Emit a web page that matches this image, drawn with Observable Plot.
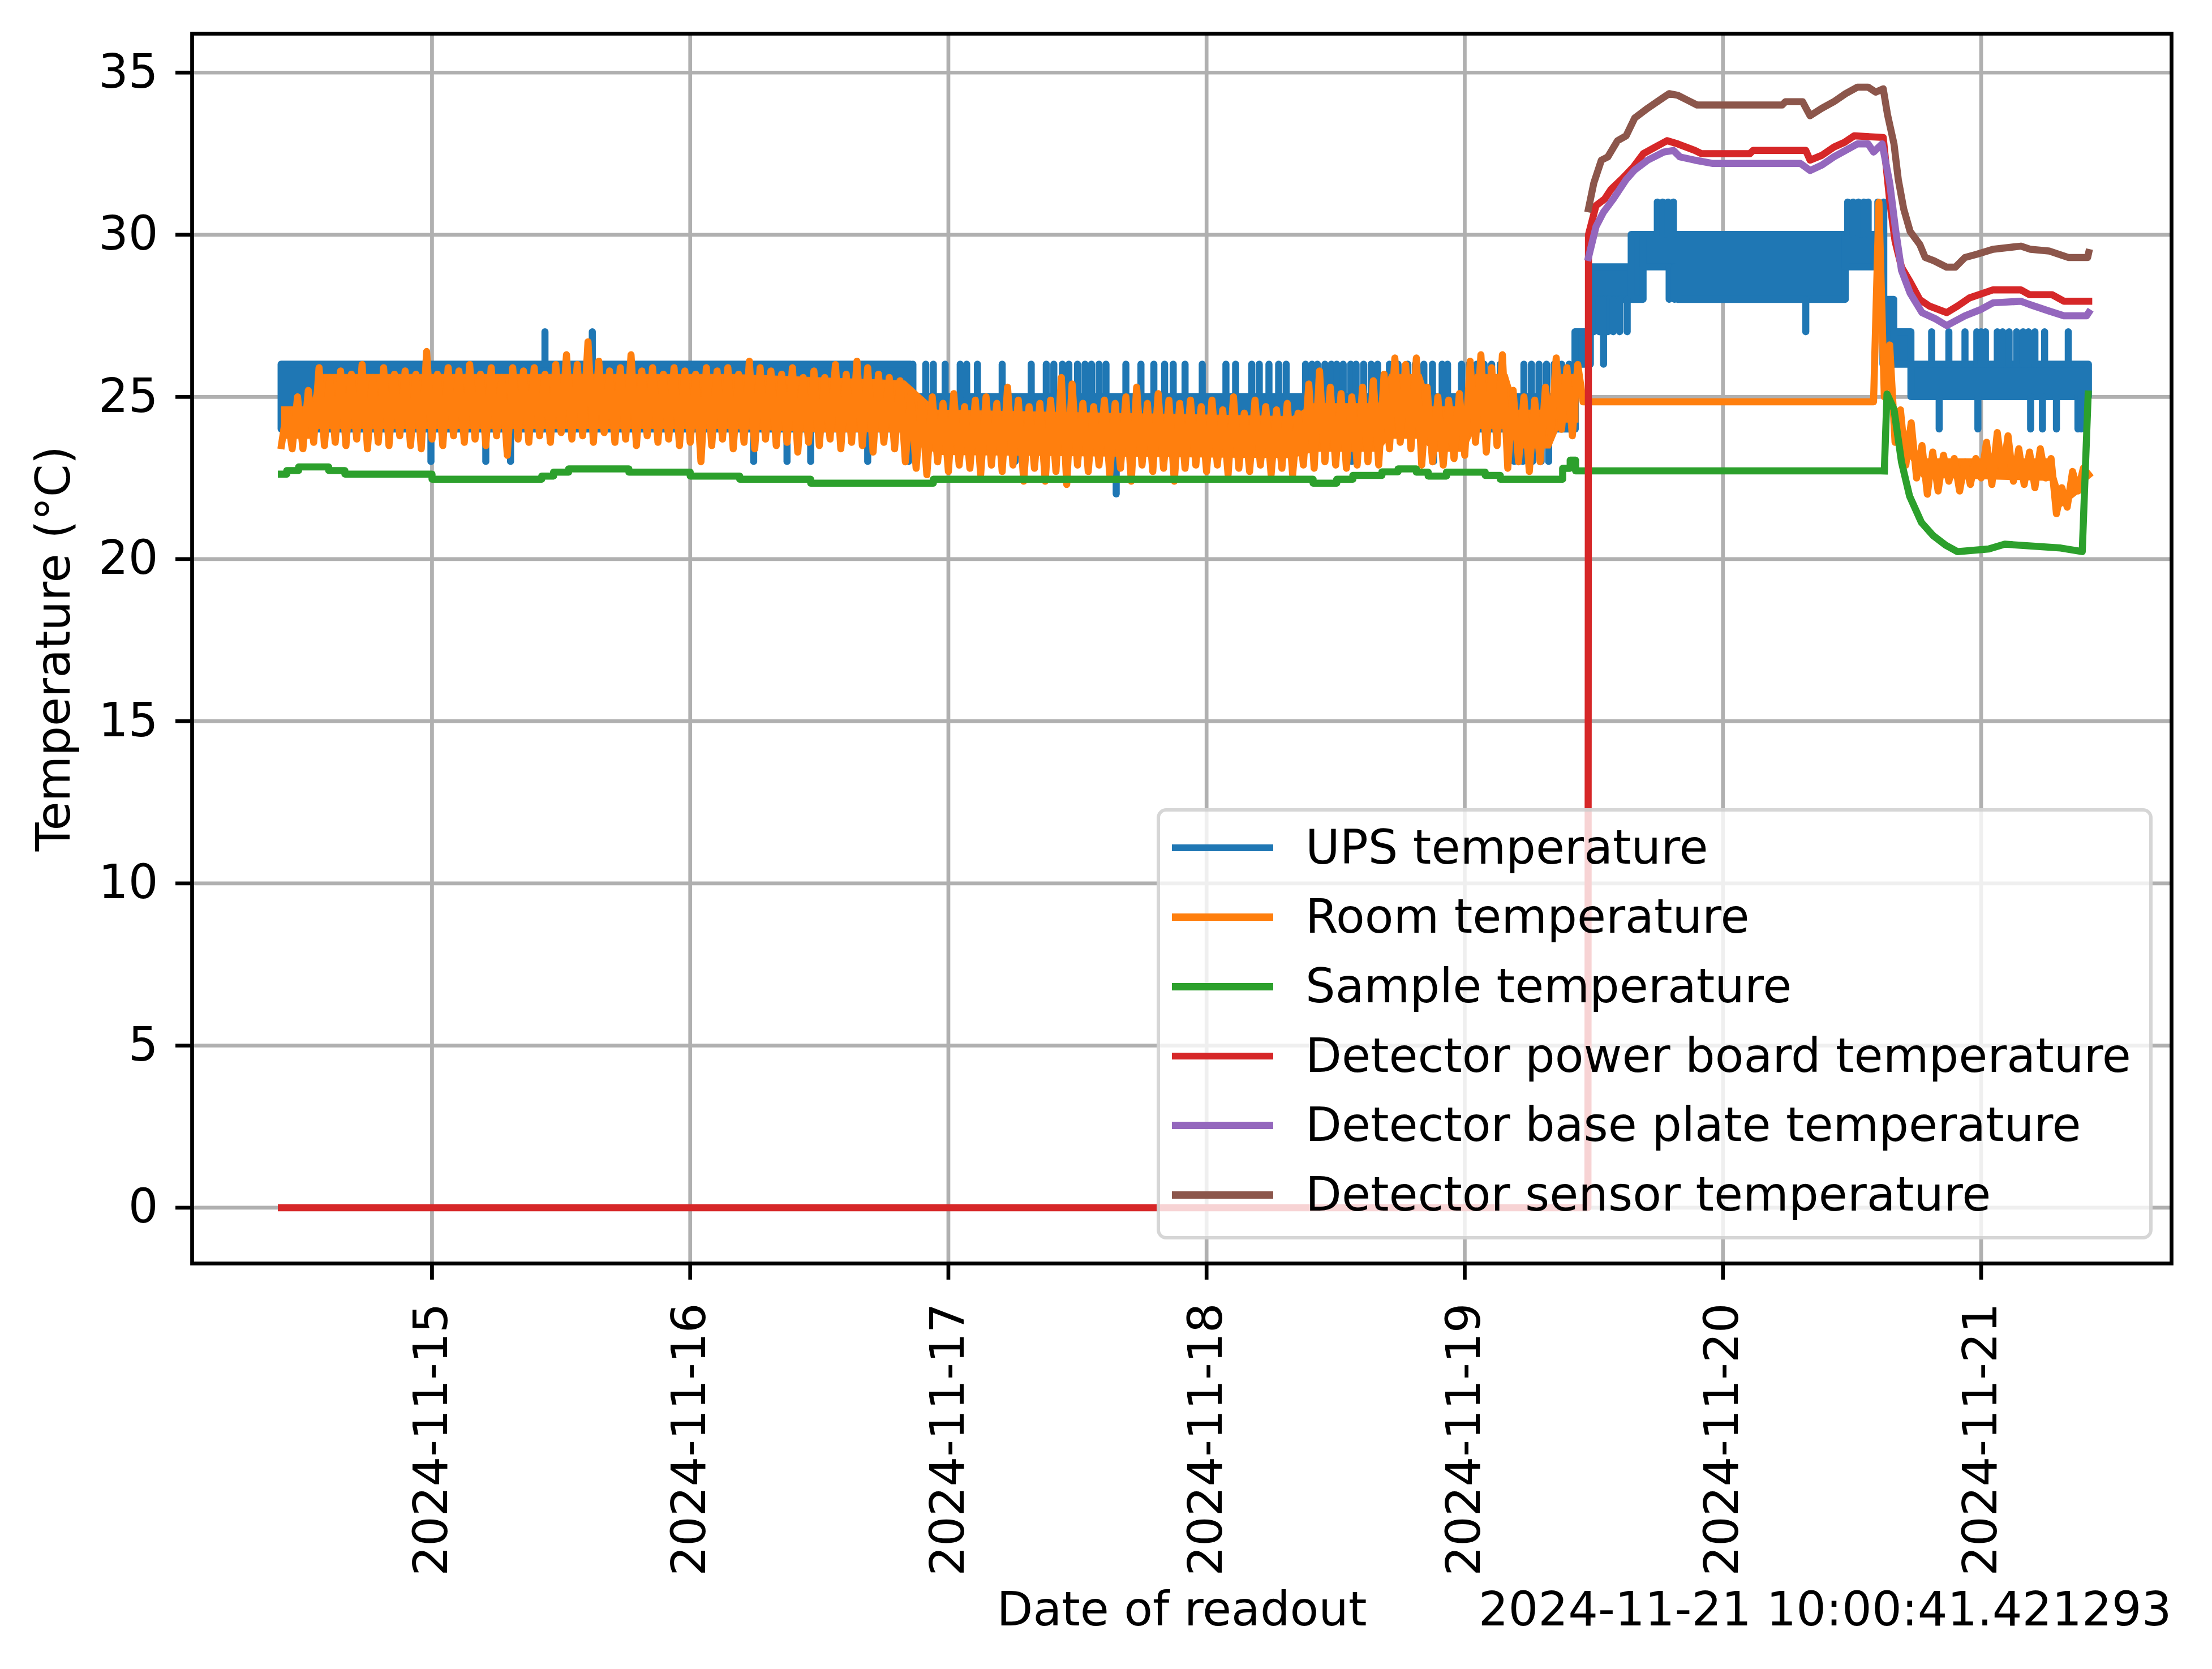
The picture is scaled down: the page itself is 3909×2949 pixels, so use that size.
<!DOCTYPE html>
<html>
<head>
<meta charset="utf-8">
<script src="https://cdn.jsdelivr.net/npm/d3@7"></script>
<script src="https://cdn.jsdelivr.net/npm/@observablehq/plot@0.6"></script>
<style>
html, body { margin: 0; padding: 0; background: #ffffff; }
#wrap { position: relative; width: 3909px; height: 2949px; font-family: "DejaVu Sans", sans-serif; }
#legend { position: absolute; left: 2044px; top: 1428px; width: 1760px; height: 762px; box-sizing: border-box;
  border: 6px solid rgba(204,204,204,0.8); border-radius: 17px; background: rgba(255,255,255,0.8); }
.row { position: absolute; left: 0; width: 100%; height: 122.7px; }
.sw { position: absolute; left: 21px; top: 55px; width: 179px; height: 12.5px; }
.lab { position: absolute; left: 257px; top: 0; line-height: 122.7px; font-size: 83px; color: #000; white-space: nowrap; }
</style>
</head>
<body>
<div id="wrap"><div id="chart"></div><div id="legend"></div></div>
<script>
// ---------- data (hours since 2024-11-14 00:00 UTC) ----------
const HOUR0 = 10, HOUR_END = 178;
const SERIES = ["UPS temperature", "Room temperature", "Sample temperature",
  "Detector power board temperature", "Detector base plate temperature", "Detector sensor temperature"];
const COLORS = ["#1f77b4", "#ff7f0e", "#2ca02c", "#d62728", "#9467bd", "#8c564b"];
const X_TICKS = ["2024-11-15", "2024-11-16", "2024-11-17", "2024-11-18", "2024-11-19", "2024-11-20", "2024-11-21"];
const Y_TICKS = [0, 5, 10, 15, 20, 25, 30, 35];
const STAMP = "2024-11-21 10:00:41.421293";

// UPS temperature: the level band it flips within, per stretch of time
const UPS_BAND_START = [10, 68.5, 130.3, 131.7, 135.5, 136.6, 139.8, 155.4, 158.9, 159.9, 161.5];
const UPS_BAND_END   = [68.5, 130.3, 131.7, 135.5, 136.6, 139.8, 155.4, 158.9, 159.9, 161.5, 178];
const UPS_BAND_LO    = [24, 24, 26, 28, 28, 29, 28, 29, 26, 26, 25];
const UPS_BAND_HI    = [26, 25, 27, 29, 30, 30, 30, 30, 28, 27, 26];
// UPS temperature: single readings outside the band
const UPS_SPIKE_H = [
  23.9, 29.0, 31.3, 34.5, 38.9, 53.9, 57.0, 59.2, 64.5, 68.3,
  68.7, 69.9, 70.6, 71.7, 73.1, 73.7, 74.7, 77.0, 79.7, 81.1, 81.8, 82.6, 83.2, 84.0, 84.7, 85.3, 86.0, 86.65,
  88.5, 89.9, 91.1, 92.1, 92.9, 94.0, 95.6, 97.8, 98.7, 100.2, 100.9, 101.8, 102.7, 103.4,
  105.2, 105.8, 106.3, 107.0, 107.6, 108.1, 108.7, 109.4, 109.9, 110.6, 111.3, 111.9,
  113.0, 113.8, 114.7, 115.4, 116.2, 117.0, 117.9, 118.4, 119.7, 120.4, 121.1, 121.8, 122.5, 123.3,
  125.5, 126.2, 126.9, 127.6, 128.3, 129.0, 129.7,
  73.0, 78.2, 80.9, 87.6, 109.5, 117.1, 124.6, 125.4, 126.3, 127.1, 127.8,
  130.25, 131.65,
  132.0, 132.5, 133.3, 133.8, 134.4, 135.1, 132.9,
  139.0, 139.5, 137.9, 138.4, 138.9, 139.4, 151.7,
  155.6, 156.1, 156.6, 157.1, 157.5, 158.4, 158.6, 158.95,
  163.4, 165.0, 166.5, 167.6, 168.0, 168.4, 169.5, 170.0, 170.6, 171.3, 171.9, 172.4, 173.0, 173.9, 176.1,
  164.1, 167.7, 172.6, 173.7, 175.0, 177.0, 177.3, 177.6];
const UPS_SPIKE_V = [
  23, 23, 23, 27, 27, 23, 23, 23, 23, 23,
  26, 26, 26, 26, 26, 26, 26, 26, 26, 26, 26, 26, 26, 26, 26, 26, 26, 26,
  26, 26, 26, 26, 26, 26, 26, 26, 26, 26, 26, 26, 26, 26,
  26, 26, 26, 26, 26, 26, 26, 26, 26, 26, 26, 26,
  26, 26, 26, 26, 26, 26, 26, 26, 26, 26, 26, 26, 26, 26,
  26, 26, 26, 26, 26, 26, 26,
  23, 23, 23, 22, 23, 23, 23, 23, 23, 23, 23,
  27, 28,
  27, 27, 27, 27, 27, 27, 26,
  28, 28, 31, 31, 31, 31, 27,
  31, 31, 31, 31, 31, 31, 28, 31,
  27, 27, 27, 27, 27, 27, 27, 27, 27, 27, 27, 27, 27, 27, 27,
  24, 24, 24, 24, 24, 24, 24, 24];

// Room temperature: hourly low / high readings (h10 .. h178)
const ROOM_LO = [
  23.5,23.4,23.4,23.6,23.5,23.6,23.5,23.7,23.4,23.6,
  23.5,23.8,23.5,23.4,23.7,23.5,23.8,23.6,23.7,23.5,
  23.8,23.2,23.7,23.6,23.8,23.6,23.9,23.7,23.8,23.6,
  23.9,23.6,23.7,23.5,23.8,23.6,23.7,23.5,23.6,23.0,
  23.5,23.7,23.4,23.6,23.4,23.7,23.5,23.6,23.3,23.6,
  23.5,23.7,23.4,23.6,23.5,23.3,23.6,23.4,23.0,22.8,
  22.6,23.0,22.7,22.9,22.8,22.6,22.9,22.7,22.9,22.4,
  22.8,22.4,22.7,22.3,22.9,22.7,22.9,22.6,22.8,22.4,
  22.9,22.7,22.8,22.4,22.8,22.9,22.7,22.9,22.6,22.8,
  22.7,22.9,22.6,22.8,22.6,22.9,22.8,23.0,22.9,22.8,
  22.9,23.0,22.9,23.4,23.6,23.4,22.9,23.0,22.9,23.1,
  23.2,23.6,23.3,23.5,22.8,23.0,22.7,23.0,23.8,24.0,
  23.8,24.85,24.85,24.85,24.85,24.85,24.85,24.85,24.85,24.85,
  24.85,24.85,24.85,24.85,24.85,24.85,24.85,24.85,24.85,24.85,
  24.85,24.85,24.85,24.85,24.85,24.85,24.85,24.85,24.85,25.0,
  23.6,22.9,22.5,22.0,22.1,22.4,22.1,22.3,22.5,22.3,
  22.6,22.4,22.3,22.2,22.5,21.4,21.6,22.1,22.6];
const ROOM_HI = [
  24.6,25.0,25.2,25.9,25.6,25.8,25.7,26.0,25.6,25.9,
  25.7,25.8,25.7,26.4,25.7,25.9,25.8,26.0,25.7,25.9,
  25.6,25.9,25.8,25.9,25.7,26.0,26.3,26.0,26.7,26.1,
  25.8,25.9,26.3,25.8,25.9,25.7,25.9,25.8,25.7,25.9,
  25.8,25.9,25.7,26.1,25.9,25.8,25.7,25.9,25.6,25.8,
  25.6,26.0,25.7,26.1,25.9,25.7,25.6,25.5,25.1,24.9,
  25.0,24.8,25.1,24.7,24.9,25.0,24.8,25.3,24.9,24.7,
  24.8,24.9,25.6,25.4,24.8,24.7,24.9,24.8,25.0,25.3,
  24.8,25.1,24.9,24.8,24.9,24.7,24.9,24.6,25.0,24.5,
  24.9,24.7,24.6,24.8,24.5,25.4,25.8,25.3,25.1,25.0,
  25.3,25.5,25.7,26.2,26.0,26.2,25.3,25.0,24.9,25.1,
  26.1,26.3,25.9,26.3,25.2,25.0,24.9,25.3,26.2,25.9,
  26.0,24.85,24.85,24.85,24.85,24.85,24.85,24.85,24.85,24.85,
  24.85,24.85,24.85,24.85,24.85,24.85,24.85,24.85,24.85,24.85,
  24.85,24.85,24.85,24.85,24.85,24.85,24.85,24.85,31.0,26.6,
  24.6,24.2,23.5,23.3,23.2,23.1,23.0,23.1,23.6,23.9,
  23.8,23.4,23.3,23.4,23.1,22.2,22.7,22.8,22.6];
// Room temperature: the solid core of the noisy band
const ROOM_CORE_H  = [10, 12.7, 13.5, 52, 60, 68, 71, 104, 106, 112, 113, 116, 117, 120, 121, 124, 125, 128, 129, 130.6];
const ROOM_CORE_LO = [23.7, 23.7, 24.0, 24.0, 23.9, 23.9, 23.2, 23.1, 23.3, 23.3, 23.7, 23.7, 23.3, 23.3, 24.0, 24.0, 23.4, 23.4, 24.2, 24.2];
const ROOM_CORE_HI = [24.7, 24.7, 25.7, 25.7, 25.6, 25.5, 24.6, 24.4, 24.8, 24.8, 25.7, 25.7, 24.7, 24.7, 25.7, 25.7, 24.6, 24.6, 25.7, 25.7];
const ROOM_CORE2_H  = [161.0, 162.5, 174.5, 175.5, 177.8];
const ROOM_CORE2_LO = [23.3, 22.5, 22.4, 21.6, 22.2];
const ROOM_CORE2_HI = [24.0, 23.1, 23.1, 22.0, 22.6];

// Sample temperature: stepped part, then the cooling tail
const SAMPLE_STEP_H = [10, 10.5, 11.6, 14.4, 15.9, 24.0, 34.2, 35.3, 36.7, 42.3, 48.0, 52.6, 59.2, 70.6,
  105.9, 108.1, 109.6, 112.3, 113.8, 115.5, 116.6, 118.3, 121.9, 123.3, 129.1, 129.8, 130.3, 159.0];
const SAMPLE_STEP_V = [22.62, 22.73, 22.84, 22.73, 22.62, 22.46, 22.56, 22.68, 22.78, 22.68, 22.56, 22.46, 22.34, 22.46,
  22.34, 22.46, 22.58, 22.69, 22.78, 22.68, 22.56, 22.68, 22.58, 22.46, 22.80, 23.05, 22.72, 22.72];
const SAMPLE_TAIL_H = [159.0, 159.25, 159.9, 160.6, 161.35, 162.45, 163.55, 164.7, 165.8, 168.7, 170.2, 175.4, 177.4, 177.95];
const SAMPLE_TAIL_V = [22.72, 25.09, 24.62, 22.99, 21.94, 21.13, 20.72, 20.43, 20.23, 20.31, 20.46, 20.34, 20.23, 25.09];

// Detector power board
const POWER_H = [10, 131.45, 131.5, 132.2, 133.0, 133.6, 134.7, 135.7, 136.6, 137.7, 138.8, 139.8, 141.4, 142.0, 146.5, 146.8,
  151.7, 152.1, 153.2, 154.3, 155.3, 156.2, 158.9, 159.5, 160.0, 160.6, 161.4, 162.3, 163.2, 164.8, 165.8, 166.9,
  169.1, 171.7, 172.5, 174.6, 175.7, 178.0];
const POWER_V = [0, 0, 30.0, 30.9, 31.1, 31.4, 31.75, 32.1, 32.5, 32.7, 32.9, 32.8, 32.6, 32.5, 32.5, 32.6,
  32.6, 32.3, 32.45, 32.7, 32.85, 33.05, 33.0, 31.05, 29.8, 29.0, 28.55, 28.0, 27.8, 27.6, 27.8, 28.05,
  28.3, 28.3, 28.15, 28.15, 27.95, 27.95];
// Detector base plate
const BASE_H = [131.5, 132.2, 132.9, 133.8, 135.0, 135.8, 137.0, 138.5, 139.4, 140.0, 141.4, 143.0, 151.2, 152.1, 153.2,
  154.3, 155.4, 156.5, 157.5, 158.0, 158.8, 159.5, 160.05, 160.6, 161.4, 162.5, 163.8, 164.8, 166.5, 168.0, 169.1,
  171.7, 172.5, 174.3, 175.7, 177.8, 178.0];
const BASE_V = [29.3, 30.25, 30.7, 31.1, 31.7, 32.0, 32.3, 32.55, 32.6, 32.4, 32.3, 32.2, 32.2, 31.98, 32.15,
  32.4, 32.6, 32.8, 32.8, 32.55, 32.8, 31.6, 30.15, 28.9, 28.2, 27.6, 27.4, 27.2, 27.5, 27.7, 27.9,
  27.95, 27.85, 27.65, 27.5, 27.5, 27.6];
// Detector sensor
const SENSOR_H = [131.5, 132.0, 132.7, 133.3, 134.2, 135.0, 135.8, 137.0, 138.1, 139.0, 139.8, 140.7, 141.6, 149.5, 149.8,
  151.4, 152.1, 153.2, 154.3, 155.4, 156.5, 157.5, 158.2, 158.9, 159.3, 159.9, 160.3, 160.8, 161.4, 162.3, 162.8,
  163.6, 164.8, 165.6, 166.5, 167.6, 169.1, 171.7, 172.6, 174.3, 176.1, 177.9, 178.0];
const SENSOR_V = [30.8, 31.6, 32.3, 32.4, 32.9, 33.05, 33.6, 33.9, 34.15, 34.35, 34.3, 34.15, 34.0, 34.0, 34.1,
  34.1, 33.67, 33.9, 34.1, 34.35, 34.55, 34.55, 34.4, 34.5, 33.7, 32.8, 31.7, 30.8, 30.1, 29.7, 29.3,
  29.2, 29.0, 29.0, 29.3, 29.4, 29.55, 29.65, 29.55, 29.5, 29.3, 29.3, 29.45];

// ---------- build ----------
const T0 = Date.UTC(2024, 10, 14);
const at = h => new Date(T0 + h * 3600000);
function zig(lo, hi) {
  const pts = [];
  lo.forEach((v, i) => {
    const h = HOUR0 + i;
    pts.push({t: at(h), v});
    if (h + 0.5 <= HOUR_END) pts.push({t: at(h + 0.5), v: hi[i]});
  });
  return pts;
}
const pairs = (H, V) => H.map((h, i) => ({t: at(h), v: V[i]}));
const bands = (H, LO, HI) => H.map((h, i) => ({t: at(h), lo: LO[i], hi: HI[i]}));

const upsBands = UPS_BAND_START.map((s, i) => ({t1: at(s), t2: at(UPS_BAND_END[i]), lo: UPS_BAND_LO[i], hi: UPS_BAND_HI[i]}));
function bandIndex(h) {
  for (let i = 0; i < UPS_BAND_START.length; i++) if (h >= UPS_BAND_START[i] && h < UPS_BAND_END[i]) return i;
  return UPS_BAND_START.length - 1;
}
const upsSpikes = UPS_SPIKE_H.map((h, i) => {
  const b = bandIndex(h), v = UPS_SPIKE_V[i];
  return {t: at(h), v, base: v > UPS_BAND_HI[b] ? UPS_BAND_HI[b] : UPS_BAND_LO[b]};
});
const room = zig(ROOM_LO, ROOM_HI);
const roomCore = bands(ROOM_CORE_H, ROOM_CORE_LO, ROOM_CORE_HI);
const roomCore2 = bands(ROOM_CORE2_H, ROOM_CORE2_LO, ROOM_CORE2_HI);
const sampleStep = pairs(SAMPLE_STEP_H, SAMPLE_STEP_V);
const sampleTail = pairs(SAMPLE_TAIL_H, SAMPLE_TAIL_V);
const power = pairs(POWER_H, POWER_V);
const base = pairs(BASE_H, BASE_V);
const sensor = pairs(SENSOR_H, SENSOR_V);
const xTicks = X_TICKS.map(s => new Date(s + "T00:00:00Z"));

const LW = 12.5, SW = 6.7;
const lineOpts = (c, extra = {}) => ({x: "t", y: "v", stroke: c, strokeWidth: LW, strokeLinejoin: "round", strokeLinecap: "square", ...extra});

const chart = Plot.plot({
  width: 3909, height: 2949,
  marginLeft: 339, marginRight: 72, marginTop: 59, marginBottom: 717,
  style: {fontFamily: "DejaVu Sans", fontSize: "83px", background: "white", color: "black", overflow: "visible"},
  x: {type: "utc", domain: [at(1.7), at(185.7)]},
  y: {domain: [-1.72, 36.2]},
  marks: [
    Plot.gridX(xTicks, {stroke: "#b0b0b0", strokeOpacity: 1, strokeWidth: SW}),
    Plot.gridY(Y_TICKS, {stroke: "#b0b0b0", strokeOpacity: 1, strokeWidth: SW}),
    // UPS
    Plot.rect(upsBands, {x1: "t1", x2: "t2", y1: "lo", y2: "hi", fill: COLORS[0], stroke: COLORS[0], strokeWidth: LW, strokeLinejoin: "round"}),
    Plot.ruleX(upsSpikes, {x: "t", y1: "base", y2: "v", stroke: COLORS[0], strokeWidth: LW, strokeLinecap: "round"}),
    // Room
    Plot.areaY(roomCore, {x: "t", y1: "lo", y2: "hi", fill: COLORS[1], fillOpacity: 1}),
    Plot.areaY(roomCore2, {x: "t", y1: "lo", y2: "hi", fill: COLORS[1], fillOpacity: 1}),
    Plot.line(room, lineOpts(COLORS[1])),
    // Sample
    Plot.line(sampleStep, lineOpts(COLORS[2], {curve: "step-after"})),
    Plot.line(sampleTail, lineOpts(COLORS[2])),
    // Detector
    Plot.line(power, lineOpts(COLORS[3])),
    Plot.line(base, lineOpts(COLORS[4])),
    Plot.line(sensor, lineOpts(COLORS[5])),
    Plot.frame({stroke: "black", strokeWidth: SW}),
    Plot.axisX({ticks: xTicks, tickSize: 29, tickPadding: 41, tickRotate: -90,
      tickFormat: d3.utcFormat("%Y-%m-%d"), strokeWidth: SW, label: null}),
    Plot.axisY({ticks: Y_TICKS, tickSize: 29, tickPadding: 31, strokeWidth: SW, label: null}),
    Plot.text(["Temperature (°C)"], {frameAnchor: "left", rotate: -90, dx: -217, lineAnchor: "bottom", textAnchor: "middle"}),
    Plot.text(["Date of readout"], {frameAnchor: "bottom", dy: 639, lineAnchor: "bottom", textAnchor: "middle"}),
    Plot.text([STAMP], {frameAnchor: "bottom-right", dy: 639, lineAnchor: "bottom", textAnchor: "end"})
  ]
});
document.getElementById("chart").appendChild(chart);

// legend
const leg = document.getElementById("legend");
SERIES.forEach((name, k) => {
  const row = document.createElement("div");
  row.className = "row";
  row.style.top = (2.65 + k * 122.7) + "px";
  const sw = document.createElement("div");
  sw.className = "sw";
  sw.style.background = COLORS[k];
  const lab = document.createElement("div");
  lab.className = "lab";
  lab.textContent = name;
  row.appendChild(sw); row.appendChild(lab);
  leg.appendChild(row);
});
</script>
</body>
</html>
